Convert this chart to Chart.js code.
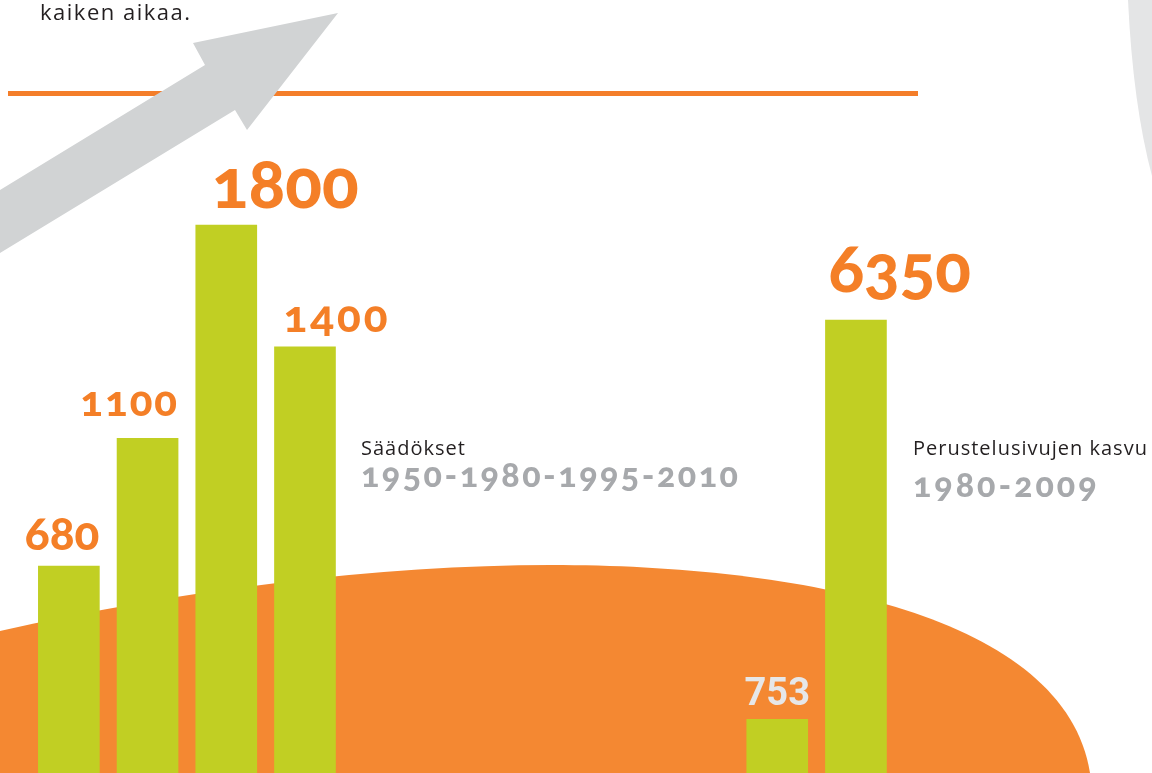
<!DOCTYPE html>
<html>
<head>
<meta charset="utf-8">
<script src="https://cdn.jsdelivr.net/npm/chart.js@4/dist/chart.umd.min.js"></script>
<style>
  html, body { margin: 0; padding: 0; background: #ffffff; overflow: hidden; }
  #wrap { position: relative; width: 1152px; height: 773px; overflow: hidden; }
  #c { position: absolute; left: 0; top: 0; }
  .t { position: absolute; left: 0; top: 0; white-space: nowrap; line-height: 1.2; }
  .num { font-family: 'Lato', 'Open Sans', sans-serif; font-weight: 900; color: #f47f27; font-variant-numeric: oldstyle-nums; }
</style>
</head>
<body>
<div id="wrap"><canvas id="c" width="1152" height="773"></canvas></div>
<script>
// ---- data ----
const saadosYears = ['1950', '1980', '1995', '2010'];
const saadosValues = [680, 1100, 1800, 1400];
const perusteluYears = ['1980', '2009'];
const perusteluValues = [753, 6350];
const saadosTitle = 'Säädökset';
const perusteluTitle = 'Perustelusivujen kasvu';
const topText = 'kaiken aikaa.';

// ---- layout / styles (not data) ----
const gapSlots = 5;
const saadosLabelStyle = [
  { size: 46, ls: 0, align: 'right', dx: 0, gap: 16 },
  { size: 42, ls: 2, align: 'right', dx: 1, gap: 22 },
  { size: 68, ls: 0, align: 'left', dx: 16, gap: 17 },
  { size: 44, ls: 3, align: 'left', dx: 9, gap: 15 }
];
const perusteluLabelStyle = [
  { size: 38, ls: 0, align: 'center', dx: 0, gap: 14, lining: true },
  { size: 66, ls: 0, align: 'left', dx: 3, gap: 28 }
];

const labels = [...saadosYears, ...Array(gapSlots).fill(''), ...perusteluYears];
const nLeft = saadosYears.length;
const nTotal = labels.length;
const leftData = labels.map((_, i) => i < nLeft ? saadosValues[i] : null);
const rightData = labels.map((_, i) => i >= nTotal - perusteluValues.length ? perusteluValues[i - (nTotal - perusteluValues.length)] : null);

const wrap = document.getElementById('wrap');

const decorations = {
  id: 'decorations',
  beforeDatasetsDraw(chart) {
    const ctx = chart.ctx;
    ctx.save();
    // orange blob
    ctx.fillStyle = '#f48832';
    ctx.beginPath();
    ctx.moveTo(0, 631);
    ctx.bezierCurveTo(180, 590, 380, 565, 551, 565);
    ctx.bezierCurveTo(800, 565, 1065, 615, 1090, 773);
    ctx.lineTo(0, 773);
    ctx.closePath();
    ctx.fill();
    // orange rule
    ctx.fillStyle = '#f47e2a';
    ctx.fillRect(8, 91, 910, 5);
    // grey arrow
    ctx.fillStyle = '#d1d3d4';
    ctx.beginPath();
    ctx.moveTo(338, 13);
    ctx.lineTo(247, 130);
    ctx.lineTo(235, 110);
    ctx.lineTo(0, 253);
    ctx.lineTo(0, 190);
    ctx.lineTo(205, 65);
    ctx.lineTo(193, 43);
    ctx.closePath();
    ctx.fill();
    // grey curve top right
    ctx.fillStyle = '#e4e5e6';
    ctx.beginPath();
    ctx.moveTo(1128, 0);
    ctx.quadraticCurveTo(1133, 105, 1152, 176);
    ctx.lineTo(1152, 0);
    ctx.closePath();
    ctx.fill();
    ctx.restore();
  }
};

function makeText(txt, cls, css) {
  const d = document.createElement('div');
  d.className = 't ' + (cls || '');
  d.style.cssText += css || '';
  d.appendChild(document.createTextNode(txt));
  const m = document.createElement('span');
  m.style.cssText = 'display:inline-block;width:0;height:0;vertical-align:baseline;letter-spacing:0;';
  d.appendChild(m);
  wrap.appendChild(d);
  return { el: d, marker: m };
}
function place(t, x, baseY, align) {
  t.el.style.left = '0px';
  t.el.style.top = '0px';
  const wr = wrap.getBoundingClientRect();
  const r = t.el.getBoundingClientRect();
  const mb = t.marker.getBoundingClientRect().top - wr.top;
  const w = r.width;
  const left = align === 'right' ? x - w : (align === 'center' ? x - w / 2 : x);
  t.el.style.left = left + 'px';
  t.el.style.top = (baseY - mb) + 'px';
}

// static texts
const tTop = makeText(topText, '', "font-family:'Open Sans',sans-serif;font-weight:500;font-size:22px;letter-spacing:1.5px;color:#231f20;");
const tS1 = makeText(saadosTitle, '', "font-family:'Open Sans',sans-serif;font-size:20px;letter-spacing:1px;color:#231f20;");
const tS2 = makeText(saadosYears.join('-'), 'num', 'font-size:34px;color:#a7a9ac;letter-spacing:2.5px;');
const tP1 = makeText(perusteluTitle, '', "font-family:'Open Sans',sans-serif;font-size:20px;letter-spacing:1px;color:#231f20;");
const tP2 = makeText(perusteluYears.join('-'), 'num', 'font-size:34px;color:#a7a9ac;letter-spacing:3px;');

// value labels
const leftLabels = saadosValues.map((v, i) => {
  const s = saadosLabelStyle[i];
  return makeText(String(v), 'num', 'font-size:' + s.size + 'px;letter-spacing:' + s.ls + 'px;');
});
const rightLabels = perusteluValues.map((v, i) => {
  const s = perusteluLabelStyle[i];
  const css = s.lining
    ? "font-family:'Roboto','Open Sans',sans-serif;font-weight:700;color:#e6e7e8;font-variant-numeric:lining-nums;font-size:" + s.size + 'px;'
    : 'font-size:' + s.size + 'px;letter-spacing:' + s.ls + 'px;';
  return makeText(String(v), s.lining ? '' : 'num', css);
});

function barAnchor(bar, s) {
  const half = bar.width / 2;
  if (s.align === 'right') return bar.x + half + s.dx;
  if (s.align === 'left') return bar.x - half + s.dx;
  return bar.x + s.dx;
}

function positionLabels(chart) {
  place(tTop, 40, 20, 'left');
  place(tS1, 361, 455, 'left');
  place(tS2, 361, 487, 'left');
  place(tP1, 913, 455, 'left');
  place(tP2, 913, 497, 'left');
  const m0 = chart.getDatasetMeta(0).data;
  saadosValues.forEach((v, i) => {
    const bar = m0[i];
    const s = saadosLabelStyle[i];
    place(leftLabels[i], barAnchor(bar, s), bar.y - s.gap, s.align);
  });
  const m1 = chart.getDatasetMeta(1).data;
  const off = nTotal - perusteluValues.length;
  perusteluValues.forEach((v, i) => {
    const bar = m1[off + i];
    const s = perusteluLabelStyle[i];
    place(rightLabels[i], barAnchor(bar, s), bar.y - s.gap, s.align);
  });
}

const labelPlugin = {
  id: 'htmlLabels',
  afterRender(chart) { positionLabels(chart); }
};

const chart = new Chart(document.getElementById('c'), {
  type: 'bar',
  data: {
    labels: labels,
    datasets: [
      { label: saadosTitle, data: leftData, yAxisID: 'y', backgroundColor: '#c1cf23', borderWidth: 0, barThickness: 61, grouped: false },
      { label: perusteluTitle, data: rightData, yAxisID: 'y2', backgroundColor: '#c1cf23', borderWidth: 0, barThickness: 61, grouped: false }
    ]
  },
  options: {
    responsive: false,
    animation: false,
    devicePixelRatio: 1,
    layout: { padding: { left: 29.5, right: 256.7, top: 0, bottom: 0 } },
    plugins: { legend: { display: false }, tooltip: { enabled: false } },
    scales: {
      x: { display: false, offset: true, grid: { display: false } },
      y: { display: false, min: 0, max: 2540 },
      y2: { display: false, min: 0, max: 10840, position: 'right' }
    }
  },
  plugins: [decorations, labelPlugin]
});
if (document.fonts && document.fonts.ready) document.fonts.ready.then(() => positionLabels(chart));
</script>
</body>
</html>
